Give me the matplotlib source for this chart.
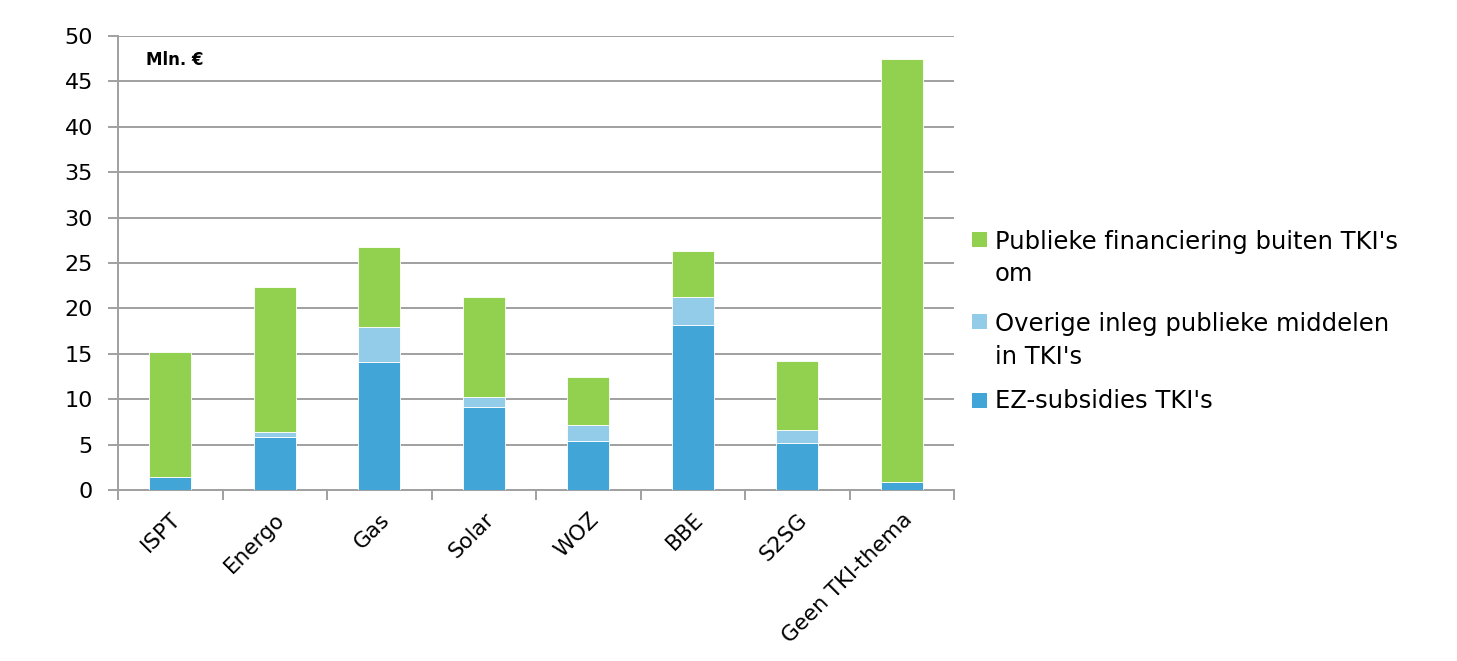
import numpy as np
import matplotlib.pyplot as plt
from matplotlib.patches import Rectangle

categories = ['ISPT', 'Energo', 'Gas', 'Solar', 'WOZ', 'BBE', 'S2SG', 'Geen TKI-thema']
ez_subsidies = [1.4, 5.8, 14.1, 9.1, 5.4, 18.2, 5.2, 0.9]
overige = [0.0, 0.6, 3.8, 1.1, 1.8, 3.1, 1.4, 0.0]
publiek_buiten = [13.8, 16.0, 8.9, 11.1, 5.2, 5.0, 7.6, 46.6]

labels = ["EZ-subsidies TKI's",
          "Overige inleg publieke middelen\nin TKI's",
          "Publieke financiering buiten TKI's\nom"]
colors = ['#42A5D7', '#93CCE8', '#92D050']

W, H = 1457, 661
fig = plt.figure(figsize=(W / 100, H / 100), dpi=100)
ax = fig.add_axes([118 / W, 1 - 490 / H, (954 - 118) / W, (490 - 36) / H])

x = np.arange(len(categories))
bottom = np.zeros(len(categories))
for vals, col, lab in zip([ez_subsidies, overige, publiek_buiten], colors, labels):
    ax.bar(x, vals, 0.4, bottom=bottom, color=col, label=lab,
           edgecolor='white', linewidth=0.6, zorder=3)
    bottom += np.array(vals)

ax.set_xlim(-0.5, len(categories) - 0.5)
ax.set_ylim(0, 50)
ax.set_yticks(np.arange(0, 51, 5))
ax.yaxis.grid(True, color='#A0A0A0', linewidth=1.4, zorder=0)
ax.set_axisbelow(True)

ax.set_xticks(x)
ax.set_xticklabels(categories, rotation=45, ha='right', rotation_mode='anchor', fontsize=15.5)
ax.set_xticks(np.arange(-0.5, len(categories)), minor=True)
ax.tick_params(axis='x', which='major', length=0, pad=14)
ax.tick_params(axis='x', which='minor', length=7, color='#A0A0A0', width=1.4)
ax.tick_params(axis='y', length=7, color='#A0A0A0', width=1.4, labelsize=16, pad=11)

for s in ['top', 'right']:
    ax.spines[s].set_visible(False)
for s in ['left', 'bottom']:
    ax.spines[s].set_color('#A0A0A0')
    ax.spines[s].set_linewidth(1.4)

ax.text(0.033, 0.948, 'Mln. €', transform=ax.transAxes, fontsize=12,
        fontweight='bold', va='center')

# legend drawn by hand so the square sits on the first text line
line_pitch = 34  # px between lines of one entry
legend_y = [400, 321, 239]  # cap centre of first line, pixels from top
for lab, col, yc in zip(labels, colors, legend_y):
    fig.patches.append(Rectangle((972 / W, 1 - (yc + 7.5) / H), 15 / W, 15 / H,
                                 transform=fig.transFigure, facecolor=col,
                                 edgecolor='none'))
    n_extra = lab.count('\n')
    base = yc + 8.5 + n_extra * line_pitch  # baseline of the last line
    fig.text(995 / W, 1 - base / H, lab, fontsize=17.5, va='baseline',
             ha='left', linespacing=1.45)

plt.savefig('out.png', dpi=100)
